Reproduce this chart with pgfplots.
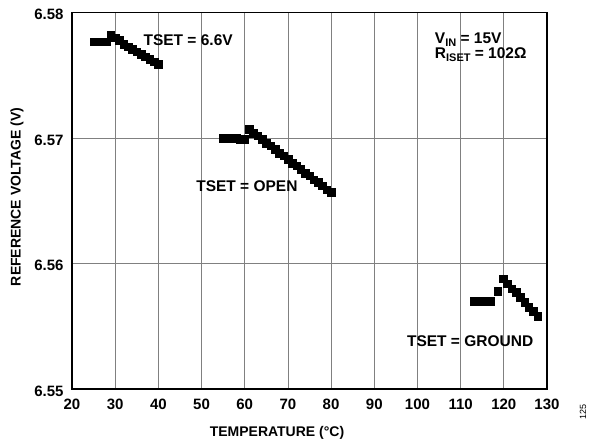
\documentclass[border=0pt]{standalone}
\usepackage{pgfplots}
\pgfplotsset{compat=1.18}
\usepackage{fontspec}
\setmainfont{Liberation Sans}
\begin{document}
\begin{tikzpicture}
\begin{axis}[
  scale only axis,
  width=475pt, height=376.3pt,
  xmin=20, xmax=130, ymin=6.55, ymax=6.58,
  xtick={20,30,...,130},
  ytick={6.55,6.56,6.57,6.58},
  grid=major,
  major grid style={draw=black!50, line width=0.8pt},
  axis line style={line width=1.3pt},
  major tick length=0pt,
  /pgf/number format/assume math mode=true,
  yticklabel style={/pgf/number format/fixed, /pgf/number format/fixed zerofill, /pgf/number format/precision=2, xshift=-5pt, yshift=-2pt},
  tick label style={font=\fontsize{15}{17}\selectfont\bfseries},
  xticklabel style={yshift=-6pt},
  xlabel={TEMPERATURE (°C)},
  ylabel={REFERENCE VOLTAGE (V)},
  label style={font=\fontsize{14}{16}\selectfont\bfseries},
  xlabel style={at={(axis description cs:0.5,0)}, anchor=center, yshift=-43.5pt, xshift=-32.5pt},
  ylabel style={at={(axis description cs:0,0.5)}, anchor=center, yshift=55pt, xshift=4pt},
  clip=false,
]
\addplot[only marks, mark=square*, mark size=3.8pt, black, mark options={line width=0.4pt}] coordinates {
(25,6.5777)(26,6.5777)(27,6.5777)(28,6.5777)
(29,6.5782)(30,6.5780)(31,6.5778)(32,6.5775)(33,6.5773)(34,6.5771)(35,6.5769)(36,6.5767)(37,6.5765)(38,6.5763)(39,6.5761)(40,6.5759)
};
\addplot[only marks, mark=square*, mark size=3.8pt, black, mark options={line width=0.4pt}] coordinates {
(55,6.5700)(56,6.5700)(57,6.5700)(58,6.5700)(59,6.5699)(60,6.5699)
(61,6.5707)(62,6.5704)(63,6.5702)(64,6.5699)(65,6.5696)(66,6.5694)(67,6.5691)(68,6.5688)(69,6.5686)(70,6.5683)
(71,6.5680)(72,6.5678)(73,6.5675)(74,6.5672)(75,6.5670)(76,6.5667)(77,6.5665)(78,6.5662)(79,6.5659)(80,6.5657)
};
\addplot[only marks, mark=square*, mark size=3.8pt, black, mark options={line width=0.4pt}] coordinates {
(113,6.5570)(114,6.5570)(115,6.5570)(116,6.5570)(117,6.5570)
(118.6,6.5578)
(119.8,6.5588)(120.8,6.5584)(121.8,6.5580)(122.8,6.5577)(123.8,6.5573)(124.8,6.5569)(125.8,6.5565)(126.8,6.5562)(127.8,6.5558)
};
\node[font=\fontsize{15.5}{17}\selectfont\bfseries] at (axis cs:46.9,6.57777) {TSET = 6.6V};
\node[font=\fontsize{15.5}{17}\selectfont\bfseries] at (axis cs:60.5,6.5662) {TSET = OPEN};
\node[font=\fontsize{15.5}{17}\selectfont\bfseries] at (axis cs:112.2,6.55385) {TSET = GROUND};
\node[font=\fontsize{15.5}{17}\selectfont\bfseries, anchor=north west, align=left, inner sep=0pt] at (axis cs:104,6.5784) {V\raisebox{-0.35ex}{\fontsize{11}{12}\selectfont IN} = 15V\\[-2pt]R\raisebox{-0.35ex}{\fontsize{11}{12}\selectfont ISET} = 102Ω};
\node[rotate=90, font=\fontsize{9}{10}\selectfont] at ([xshift=36pt,yshift=-23pt]rel axis cs:1,0) {125};
\end{axis}
\path ([xshift=-72pt,yshift=-57pt]current axis.south west) rectangle ([xshift=43pt,yshift=12.7pt]current axis.north east);
\end{tikzpicture}
\end{document}
